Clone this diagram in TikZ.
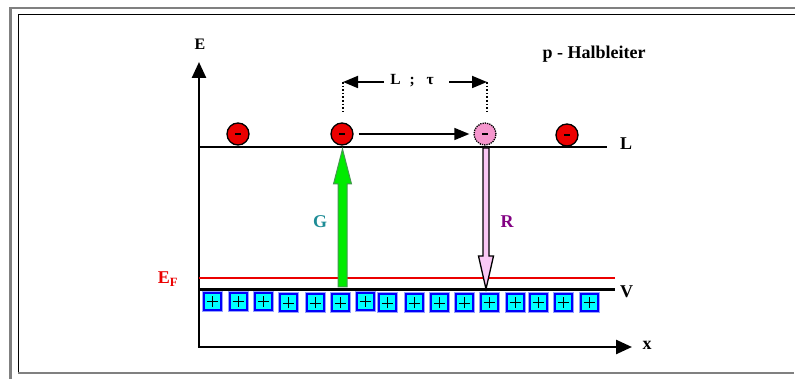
\documentclass[tikz,border=0pt]{standalone}
\usepackage{fontspec}
\setmainfont{Liberation Serif}
\usetikzlibrary{arrows.meta}
\definecolor{framegray}{RGB}{128,128,128}
\definecolor{ered}{RGB}{235,0,0}
\definecolor{epink}{RGB}{245,150,205}
\definecolor{gfill}{RGB}{0,235,0}
\definecolor{gline}{RGB}{70,150,80}
\definecolor{rfill}{RGB}{250,200,245}
\definecolor{gteal}{RGB}{30,140,150}
\definecolor{rpurple}{RGB}{130,0,130}
\definecolor{boxcyan}{RGB}{0,255,255}
\definecolor{boxblue}{RGB}{0,0,250}
\definecolor{boxhalo}{RGB}{150,160,255}
\tikzset{
  lbl/.style={font=\bfseries\fontsize{18}{20}\selectfont, inner sep=0pt},
  smalllbl/.style={font=\bfseries\fontsize{16}{18}\selectfont, inner sep=0pt},
  axisline/.style={line width=2.5pt, -{Triangle[length=16pt,width=14pt]}},
  bandline/.style={line width=3pt},
  electron/.style={circle, minimum size=22pt, inner sep=0pt, fill=ered, draw=black, line width=1.3pt},
  ghost/.style={circle, minimum size=22pt, inner sep=0pt, fill=epink, draw=black, line width=1.3pt, densely dotted},
  hole/.style={rectangle, minimum size=17pt, inner sep=0pt, fill=boxcyan, draw=boxblue, line width=2pt},
  movearrow/.style={line width=1.5pt, -{Triangle[length=15pt,width=12pt]}},
  dimarrow/.style={line width=1.8pt, -{Triangle[length=15pt,width=12pt]}},
  dotline/.style={line width=1.6pt, dotted},
}
\begin{document}
\begin{tikzpicture}[x=1pt,y=-1pt]
\useasboundingbox (0,0) rectangle (795,379);
% window frame
\draw[framegray, line width=2.7pt] (10.5,379) -- (10.5,8) -- (795,8);
\draw[black, line width=1pt] (18,372.5) -- (18,15) -- (795,15);
\draw[framegray, line width=1.5pt] (18,373) -- (794,373);

% axes
\coordinate (O) at (199,347);
\coordinate (Etip) at (199,62);
\coordinate (xtip) at (632,347);
\draw[axisline] (O) -- (Etip);
\draw[axisline] ([xshift=-1.2pt]O) -- (xtip);
\node[smalllbl] (Elbl) at (200,44) {E};
\node[lbl] (xlbl) at (647,345) {x};

% band lines
\coordinate (L0) at (199,147);
\coordinate (L1) at (607,147);
\draw[line width=2.8pt] (L0) -- (L1);
\node[lbl, anchor=west] (Llbl) at (620,144) {L};
\coordinate (V0) at (199,290);
\coordinate (V1) at (615,290);
\coordinate (F0) at (199,278);
\coordinate (F1) at (615,278);
\draw[ered, line width=1.5pt] (F0) -- (F1);
\draw[bandline] (V0) -- (V1);
\node[lbl, anchor=west] (Vlbl) at (620,292) {V};
\node[lbl, text=ered] (EF) at (168,279) {E\textsubscript{F}};

% title
\node[lbl, anchor=base] (title) at (594,59) {p - Halbleiter};

% holes
\foreach \i/\x/\y in {1/212/301.5,2/238/301.5,3/263/301.5,4/288.5/303,5/315/303,6/340/303,7/365/301.5,8/387/303,
  9/414/303,10/439/303,11/464/303,12/489/302.3,13/515/302.3,14/538/302.3,15/563/302.3,16/589/302.3}{
  \node[rectangle, minimum size=20pt, inner sep=0pt, draw=boxhalo, line width=1pt] (halo\i) at (\x,\y) {};
  \node[hole] (h\i) at (\x,\y) {};
  \draw[line width=0.8pt] ([xshift=-5.5pt]h\i.center) -- ([xshift=5.5pt]h\i.center)
    ([yshift=-5.5pt]h\i.center) -- ([yshift=5.5pt]h\i.center);
}

% generation arrow (G)
\coordinate (Gbase) at (342.5,287);
\coordinate (Gtip) at (342.5,149);
\filldraw[fill=gfill, draw=gline, line width=1pt]
  (338,287) -- (338,184) -- (333.5,184) -- (Gtip) -- (351.5,184) -- (347,184) -- (347,287) -- cycle;
\node[lbl, text=gteal] (Glbl) at (320,222) {G};

% recombination arrow (R)
\coordinate (Rtop) at (486,148);
\coordinate (Rtip) at (486,289);
\filldraw[fill=rfill, draw=black, line width=1.3pt]
  (483,148) -- (483,256) -- (478.5,256) -- (Rtip) -- (493.5,256) -- (489,256) -- (489,148) -- cycle;
\node[lbl, text=rpurple] (Rlbl) at (507,222) {R};

% electrons
\node[electron] (e1) at (238,134) {};
\node[electron] (e2) at (342,134) {};
\node[ghost] (e3) at (485,134) {};
\node[electron] (e4) at (567,135) {};
\foreach \e in {e1,e2,e3,e4}{
  \draw[line width=1.6pt] ([xshift=-3pt]\e.center) -- ([xshift=3pt]\e.center);
}

% drift arrow
\draw[movearrow, shorten <=5pt, shorten >=4pt] (e2) -- (e3);

% diffusion length / lifetime dimension
\coordinate (d1t) at (343,82);
\coordinate (d1b) at (343,111);
\coordinate (d2t) at (487,82);
\coordinate (d2b) at (487,111);
\draw[dotline] (d1t) -- (d1b);
\draw[dotline] (d2t) -- (d2b);
\node[font=\bfseries\fontsize{15.5}{17}\selectfont, inner sep=0pt] (Ltau) at (412,81) {L\,\, ;\,\,\, τ};
\coordinate (a1) at (384,82);
\coordinate (a2) at (449,82);
\draw[dimarrow] (a1) -- (d1t);
\draw[dimarrow] (a2) -- (d2t);
\end{tikzpicture}
\end{document}
